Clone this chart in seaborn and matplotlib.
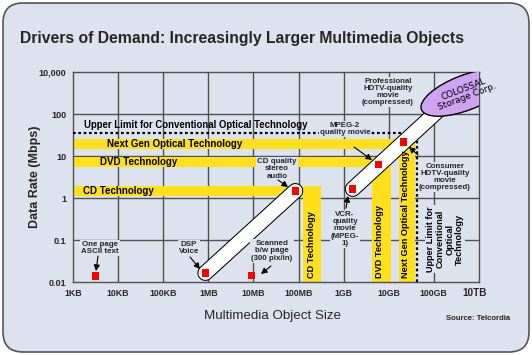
import matplotlib
matplotlib.use("Agg")
import matplotlib.pyplot as plt
import matplotlib.patheffects as pe
from matplotlib.patches import FancyBboxPatch, Ellipse
from matplotlib.transforms import IdentityTransform
import numpy as np
import pandas as pd
import seaborn as sns

# ---------------- data ----------------
items = ["One page ASCII text", "DSP Voice", "Scanned b/w page",
         "CD quality stereo audio", "VCR-quality movie (MPEG-1)",
         "MPEG-2 quality movie", "Consumer HDTV-quality movie"]
sizes_bytes = [3.2e3, 8.6e5, 9.1e6, 8.5e7, 1.6e9, 6.0e9, 2.15e10]
rates_mbps = [0.0139, 0.0164, 0.0146, 1.47, 1.64, 6.4, 21.5]

tech_names = ["CD Technology", "DVD Technology", "Next Gen Optical Technology"]
tech_rate_lo = [1.12, 5.47, 14.7]
tech_rate_hi = [1.93, 9.46, 25.4]
tech_size_lo = [1.29e8, 4.2e9, 1.66e10]
tech_size_hi = [3.08e8, 1.1e10, 3.8e10]

upper_limit_rate = 35.0
upper_limit_size = 4.2e10

pipe_end = (1.9e11, 183.0)          # where the pipe meets the "COLOSSAL" ellipse
colossal_center = (5.0e11, 320.0)

x_ticks = [1e3, 1e4, 1e5, 1e6, 1e7, 1e8, 1e9, 1e10, 1e11]
x_labels = ["1KB", "10KB", "100KB", "1MB", "10MB", "100MB", "1GB", "10GB", "100GB"]
y_ticks = [0.01, 0.1, 1, 10, 100, 1000]
y_labels = ["0.01", "0.1", "1", "10", "100", "10,000"]

# ---------------- style ----------------
sns.set_style("white")
plt.rcParams["font.family"] = ["Liberation Sans", "DejaVu Sans"]

BG = "#dde2ef"
YEL = "#ffe01b"
GRID = "#505050"

W, H = 532, 355
fig = plt.figure(figsize=(W / 100, H / 100), dpi=100)
fig.patch.set_facecolor("white")

panel = FancyBboxPatch((0.03, 0.03), 5.26, 3.49,
                       boxstyle="round,pad=0,rounding_size=0.2",
                       transform=fig.dpi_scale_trans, facecolor=BG,
                       edgecolor="#555555", linewidth=1.2, zorder=-5)
fig.patches.append(panel)

L, R, T, B = 73, 479, 72, 282
ax = fig.add_axes([L / W, (H - B) / H, (R - L) / W, (B - T) / H])
ax.set_zorder(1)
ax.patch.set_alpha(0)
ax.set_xscale("log")
ax.set_yscale("log")
ax.set_xlim(1e3, 1e3 * 10 ** ((R - L) / 45.1))
ax.set_ylim(0.01, 1000)

def P(x, y):
    """pixel position in the picture -> axes fraction"""
    return ((x - L) / (R - L), (B - y) / (B - T))

# grid
for xv in x_ticks[1:]:
    ax.axvline(xv, color=GRID, lw=1.0, zorder=1)
for yv in y_ticks[1:-1]:
    ax.axhline(yv, color=GRID, lw=1.0, zorder=1)
for s in ax.spines.values():
    s.set_color(GRID)
    s.set_linewidth(1.0)

# technology L-shaped bands
for name, rlo, rhi, slo, shi in zip(tech_names, tech_rate_lo, tech_rate_hi,
                                    tech_size_lo, tech_size_hi):
    ax.fill_between([1e3, shi], rlo, rhi, color=YEL, lw=0, zorder=2)
    ax.fill_between([slo, shi], 0.01, rhi, color=YEL, lw=0, zorder=2)

# upper limit dotted L
ax.plot([1e3, upper_limit_size], [upper_limit_rate, upper_limit_rate],
        color="black", ls=(0, (1.2, 1.2)), lw=1.6, zorder=3)
ax.plot([upper_limit_size, upper_limit_size], [0.01, upper_limit_rate],
        color="black", ls=(0, (1.2, 1.2)), lw=1.6, zorder=3)

# pipes
pipe_fx = [pe.Stroke(linewidth=11.5, foreground="black"), pe.Normal()]
ax.plot([sizes_bytes[1], sizes_bytes[3]], [rates_mbps[1], rates_mbps[3]],
        color="white", lw=10, solid_capstyle="round", zorder=4,
        path_effects=pipe_fx)
ax.plot([sizes_bytes[4], pipe_end[0]], [rates_mbps[4], pipe_end[1]],
        color="white", lw=10, solid_capstyle="round", zorder=4,
        path_effects=pipe_fx)

# COLOSSAL ellipse (drawn in pixel space for a true ellipse)
cx, cy = ax.transData.transform(colossal_center)
ell = Ellipse((cx, cy), 94, 35, angle=21, transform=IdentityTransform(),
              facecolor="#cfa2f2", edgecolor="black", lw=1.0, zorder=6)
ax.add_artist(ell)
ax.text(colossal_center[0], colossal_center[1], "COLOSSAL\nStorage Corp.",
        rotation=21, rotation_mode="anchor", ha="center", va="center",
        fontsize=6.4, color="black", zorder=7, linespacing=0.95,
        family=["DejaVu Sans"])

# data points
df = pd.DataFrame({"size": sizes_bytes, "rate": rates_mbps, "item": items})
sns.scatterplot(data=df, x="size", y="rate", marker="s", s=26,
                color="#ff0000", edgecolor="none", ax=ax, zorder=5,
                legend=False)

# ticks
ax.set_xticks(x_ticks)
ax.set_xticklabels(x_labels, fontsize=6.3, fontweight="bold")
ax.set_yticks(y_ticks)
ax.set_yticklabels(y_labels, fontsize=6.5, fontweight="bold")
ax.minorticks_off()
ax.tick_params(axis="both", length=0)
ax.tick_params(axis="x", pad=5)
ax.tick_params(axis="y", pad=5)
ax.set_xlabel("")
ax.set_ylabel("")
ax.text(*P(475, 293), "10TB", transform=ax.transAxes, ha="center", va="center",
        fontsize=7.2, fontweight="bold")

# band labels
bold = dict(fontweight="bold", color="black", zorder=8)
ax.text(*P(84, 125), "Upper Limit for Conventional Optical Technology",
        transform=ax.transAxes, ha="left", va="center", fontsize=6.9, **bold)
ax.text(*P(107, 144), "Next Gen Optical Technology", transform=ax.transAxes,
        ha="left", va="center", fontsize=7.0, **bold)
ax.text(*P(100, 162), "DVD Technology", transform=ax.transAxes,
        ha="left", va="center", fontsize=7.0, **bold)
ax.text(*P(83, 191), "CD Technology", transform=ax.transAxes,
        ha="left", va="center", fontsize=7.0, **bold)
for xp, name in zip([312, 380, 406], tech_names):
    ax.text(*P(xp, 278), name, transform=ax.transAxes, rotation=90,
            ha="center", va="bottom", fontsize=6.6, **bold)
ax.text(*P(445, 239), "Upper Limit for\nConventional\nOptical\nTechnology",
        transform=ax.transAxes, rotation=90, ha="center", va="center",
        multialignment="center", fontsize=6.6, linespacing=1.05,
        bbox=dict(fc=BG, ec="none", pad=1), **bold)

# annotations
ann = dict(fontsize=5.7, fontweight="bold", ha="center", va="center",
           multialignment="center", linespacing=1.05, zorder=8,
           bbox=dict(fc=BG, ec="none", pad=0.8))
arrow = dict(arrowstyle="-|>,head_length=0.35,head_width=0.18", color="black",
             lw=0.8, shrinkA=0, shrinkB=0)

ax.text(*P(100, 248), "One page\nASCII text", transform=ax.transAxes, **ann)
ax.annotate("", xy=P(96, 271), xytext=P(98, 256), xycoords="axes fraction",
            textcoords="axes fraction", arrowprops=arrow, zorder=8)
ax.text(*P(189, 248), "DSP\nVoice", transform=ax.transAxes, **ann)
ax.annotate("", xy=P(200, 269), xytext=P(190, 257), xycoords="axes fraction",
            textcoords="axes fraction", arrowprops=arrow, zorder=8)
ax.text(*P(272, 251), "Scanned\nb/w page\n(300 pix/in)", transform=ax.transAxes, **ann)
ax.annotate("", xy=P(261, 274), xytext=P(271, 266), xycoords="axes fraction",
            textcoords="axes fraction", arrowprops=arrow, zorder=8)
ax.text(*P(277, 169), "CD quality\nstereo\naudio", transform=ax.transAxes, **ann)
ax.annotate("", xy=P(288, 187), xytext=P(278, 180), xycoords="axes fraction",
            textcoords="axes fraction", arrowprops=arrow, zorder=8)
ax.text(*P(345, 229), "VCR-\nquality\nmovie\n(MPEG-\n1)", transform=ax.transAxes, **ann)
ax.annotate("", xy=P(348, 196), xytext=P(346, 208), xycoords="axes fraction",
            textcoords="axes fraction", arrowprops=arrow, zorder=8)
ax.text(*P(345, 129), "MPEG-2\nquality movie", transform=ax.transAxes, **ann)
ax.annotate("", xy=P(372, 160), xytext=P(354, 147), xycoords="axes fraction",
            textcoords="axes fraction", arrowprops=arrow, zorder=8)
ax.text(*P(388, 92), "Professional\nHDTV-quality\nmovie\n(compressed)",
        transform=ax.transAxes, **ann)
ax.text(*P(445, 177), "Consumer\nHDTV-quality\nmovie\n(compressed)",
        transform=ax.transAxes, **ann)
ax.annotate("", xy=P(409, 147), xytext=P(418, 155), xycoords="axes fraction",
            textcoords="axes fraction", arrowprops=arrow, zorder=8)

# titles
fig.text(20 / W, 1 - 38 / H, "Drivers of Demand: Increasingly Larger Multimedia Objects",
         ha="left", va="center", fontsize=11.3, fontweight="bold")
fig.text(35 / W, 1 - 177 / H, "Data Rate (Mbps)", rotation=90, ha="center",
         va="center", fontsize=9.0, fontweight="bold")
fig.text(273 / W, 1 - 316 / H, "Multimedia Object Size", ha="center",
         va="center", fontsize=9.6)
fig.text(478 / W, 1 - 318 / H, "Source: Telcordia", ha="center", va="center",
         fontsize=5.6, fontweight="bold")

fig.savefig("out.png", dpi=100, facecolor="white")
